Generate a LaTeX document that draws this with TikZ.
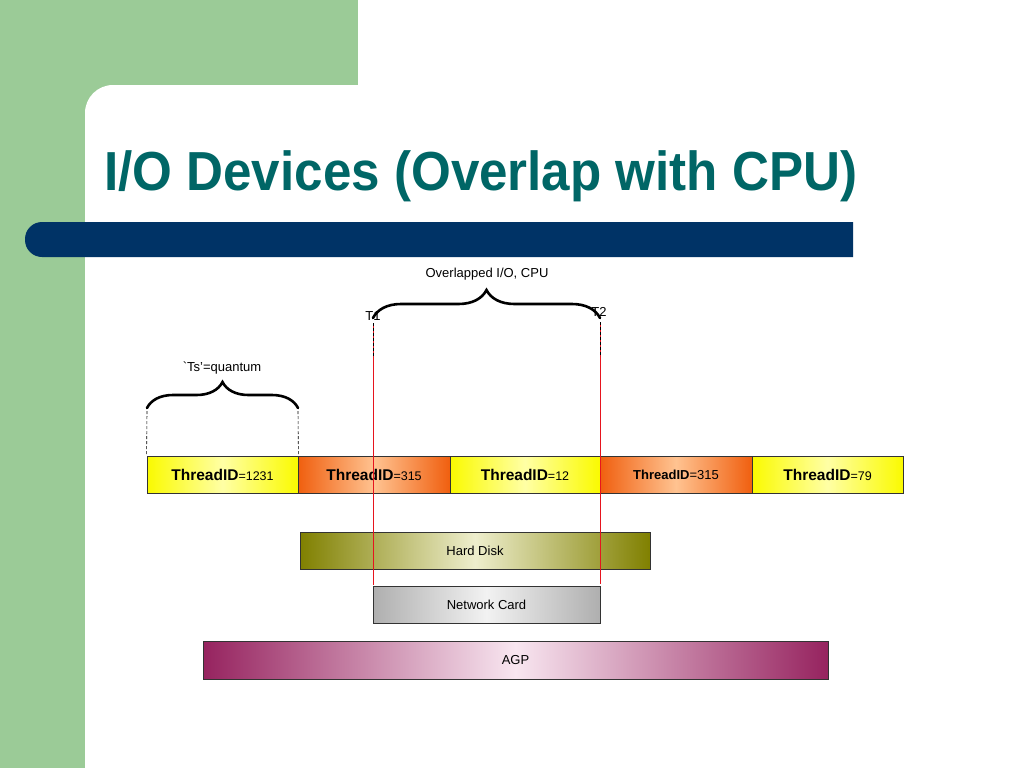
\documentclass[tikz,border=0pt]{standalone}
\usepackage{fontspec}
\setmainfont{Liberation Sans}
\usetikzlibrary{decorations.pathreplacing}
\definecolor{bggreen}{RGB}{155,203,151}
\definecolor{titleteal}{RGB}{0,102,102}
\definecolor{barblue}{RGB}{0,51,102}
\definecolor{ylw}{RGB}{250,250,0}
\definecolor{ylwc}{RGB}{255,255,165}
\definecolor{orng}{RGB}{240,95,15}
\definecolor{orngc}{RGB}{255,195,145}
\definecolor{olv}{RGB}{128,128,0}
\definecolor{olvc}{RGB}{238,238,205}
\definecolor{gry}{RGB}{175,175,175}
\definecolor{gryc}{RGB}{242,242,242}
\definecolor{mgn}{RGB}{150,35,95}
\definecolor{mgnc}{RGB}{248,230,240}
\definecolor{redline}{RGB}{230,20,30}
\tikzset{
  box/.style={draw=black!80, line width=0.8pt, inner sep=0pt, minimum height=37pt},
  ybox/.style={box, left color=ylw, right color=ylw, middle color=ylwc},
  obox/.style={box, left color=orng, right color=orng, middle color=orngc},
  lbl/.style={font=\fontsize{13}{15}\selectfont, inner sep=0pt},
  dev/.style={box, font=\fontsize{13}{15}\selectfont},
  brc/.style={decorate, line width=2.6pt, line cap=round},
  guide/.style={draw=black, line width=0.6pt, dash pattern=on 3pt off 2pt},
  redln/.style={fill=redline, draw=none}
}
\newcommand{\tid}[1]{{\fontsize{15.5}{17}\selectfont\bfseries ThreadID}{\fontsize{12.5}{14}\selectfont =#1}}
\begin{document}
\begin{tikzpicture}[x=1pt,y=-1pt]
\useasboundingbox (0,0) rectangle (1024,768);
% background
\fill[white] (0,0) rectangle (1024,768);
\fill[bggreen] (0,0) rectangle (358,768);
\fill[white, rounded corners=28] (85,85) rectangle (1060,800);
% title bar
\fill[barblue] (853,222) [rounded corners=17] -- (25,222) -- (25,257) [sharp corners] -- (853,257) -- cycle;
\node[anchor=base west, inner sep=0pt, text=titleteal, font=\fontsize{55}{60}\selectfont\bfseries] (title) at (104,190) {\scalebox{0.93}[1]{I/O Devices (Overlap with CPU)}};

% thread boxes
\node[ybox, minimum width=151pt] (b1) at (222.5,474.5) {\tid{1231}};
\node[obox, minimum width=152pt] (b2) at (374,474.5) {\tid{315}};
\node[ybox, minimum width=150pt] (b3) at (525,474.5) {\tid{12}};
\node[obox, minimum width=152pt] (b4) at (676,474.5) {{\fontsize{13}{15}\selectfont\bfseries ThreadID}{\fontsize{13}{15}\selectfont =315}};
\node[ybox, minimum width=151pt] (b5) at (827.5,474.5) {\tid{79}};

% devices
\node[dev, minimum width=350pt, left color=olv, right color=olv, middle color=olvc] (hd) at (475,550.5) {Hard Disk};
\node[dev, minimum width=227pt, left color=gry, right color=gry, middle color=gryc] (nc) at (486.5,604.5) {Network Card};
\node[dev, minimum width=625pt, minimum height=38pt, left color=mgn, right color=mgn, middle color=mgnc] (agp) at (515.5,660) {AGP};

% quantum brace
\coordinate (q1) at (147,408);
\coordinate (q2) at (298,408);
\draw[brc, decoration={brace, amplitude=26pt}] (q1) -- (q2);
\node[lbl] (qlbl) at (222,368) {\textasciigrave Ts’=quantum};
\draw[guide] (q1) ++(0,3) -- (b1.north west);
\draw[guide] (q2) ++(0,3) -- (b1.north east);

% overlap brace
\coordinate (o1) at (373,318);
\coordinate (o2) at (600,318);
\draw[brc, decoration={brace, amplitude=28pt}] (o1) -- (o2);
\node[lbl] (olbl) at (487,274) {Overlapped I/O, CPU};
\node[lbl] (T1) at (373,316) {T1};
\node[lbl] (T2) at (599,312) {T2};
% red time lines (thin filled strips)
\coordinate (r1a) at (372.6,323);
\coordinate (r1b) at (373.9,585);
\coordinate (r2a) at (599.8,322);
\coordinate (r2b) at (601.1,584);
\path[redln] (r1a) rectangle (r1b);
\path[redln] (r2a) rectangle (r2b);
\coordinate (g1) at (373.25,323);
\coordinate (g2) at (600.45,322);
\draw[guide, line width=0.7pt] (g1) -- +(0,33);
\draw[guide, line width=0.7pt] (g2) -- +(0,34);
\end{tikzpicture}
\end{document}
